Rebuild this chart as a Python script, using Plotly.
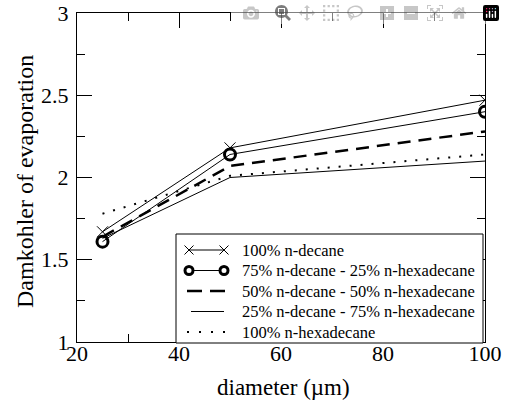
import plotly.graph_objects as go

diameter = [25, 50, 100]
decane100 = [1.67, 2.18, 2.47]
dec75_hex25 = [1.61, 2.14, 2.40]
dec50_hex50 = [1.64, 2.07, 2.28]
dec25_hex75 = [1.63, 2.00, 2.10]
hexadecane100 = [1.78, 2.01, 2.14]

names = [
    "100% n-decane",
    "75% n-decane - 25% n-hexadecane",
    "50% n-decane - 50% n-hexadecane",
    "25% n-decane - 75% n-hexadecane",
    "100% n-hexadecane",
]

FONT = "Liberation Serif, Times New Roman, serif"
W, H = 505, 403
# target plot box in page pixels
PL, PR, PT, PB = 77, 485, 13, 342
ML, MT = PL, PT
MR, MB = W - PR, H - PB
PW, PH = PR - PL, PB - PT


def px_x(p):
    return (p - PL) / PW


def px_y(p):
    return (PB - p) / PH


fig = go.Figure()
fig.add_trace(go.Scatter(x=diameter, y=decane100, name=names[0], mode="lines+markers",
                         line=dict(color="black", width=1),
                         marker=dict(symbol="x-thin-open", size=11, color="black",
                                     line=dict(color="black", width=1))))
fig.add_trace(go.Scatter(x=diameter, y=dec75_hex25, name=names[1], mode="lines+markers",
                         line=dict(color="black", width=1),
                         marker=dict(symbol="circle-open", size=11, color="black",
                                     line=dict(color="black", width=3))))
fig.add_trace(go.Scatter(x=diameter, y=dec50_hex50, name=names[2], mode="lines",
                         line=dict(color="black", width=2.5, dash="13px,8px")))
fig.add_trace(go.Scatter(x=diameter, y=dec25_hex75, name=names[3], mode="lines",
                         line=dict(color="black", width=1)))
fig.add_trace(go.Scatter(x=diameter, y=hexadecane100, name=names[4], mode="lines",
                         line=dict(color="black", width=2, dash="2px,9px")))

# ---- custom legend (Grace style: symbols at both ends of the sample line) ----
shapes = []
annotations = []
box = dict(x0=176, x1=483, y0=234, y1=343)
shapes.append(dict(type="rect", xref="paper", yref="paper",
                   x0=px_x(box["x0"]), x1=px_x(box["x1"]),
                   y0=px_y(box["y1"]), y1=px_y(box["y0"]),
                   line=dict(color="black", width=1), fillcolor="white", layer="above"))
row_y = [250, 270.5, 291, 311.5, 332]
sx0, sx1 = 189, 224
for i, (name, ry) in enumerate(zip(names, row_y)):
    if i == 2:
        shapes.append(dict(type="line", xref="paper", yref="paper",
                           x0=px_x(187), x1=px_x(226), y0=px_y(ry), y1=px_y(ry),
                           line=dict(color="black", width=2.5, dash="15px,8px"), layer="above"))
    elif i == 4:
        shapes.append(dict(type="line", xref="paper", yref="paper",
                           x0=px_x(187), x1=px_x(227), y0=px_y(ry), y1=px_y(ry),
                           line=dict(color="black", width=2, dash="2px,10px"), layer="above"))
    else:
        shapes.append(dict(type="line", xref="paper", yref="paper",
                           x0=px_x(sx0 if i < 2 else 191), x1=px_x(sx1), y0=px_y(ry), y1=px_y(ry),
                           line=dict(color="black", width=1), layer="above"))
    if i == 0:
        for cx in (sx0, sx1):
            for d in (-1, 1):
                shapes.append(dict(type="line", xref="paper", yref="paper",
                                   x0=px_x(cx - 4.5), x1=px_x(cx + 4.5),
                                   y0=px_y(ry - 4.5 * d), y1=px_y(ry + 4.5 * d),
                                   line=dict(color="black", width=1), layer="above"))
    if i == 1:
        for cx in (sx0, sx1):
            shapes.append(dict(type="circle", xref="paper", yref="paper",
                               x0=px_x(cx - 4), x1=px_x(cx + 4),
                               y0=px_y(ry + 4), y1=px_y(ry - 4),
                               line=dict(color="black", width=3), fillcolor="white", layer="above"))
    annotations.append(dict(text=name, xref="paper", yref="paper",
                            x=px_x(240), y=px_y(ry), xanchor="left", yanchor="middle",
                            showarrow=False,
                            font=dict(family=FONT, size=16.5, color="black")))

# axis titles as annotations for exact placement
annotations.append(dict(text="Damkohler of evaporation", xref="paper", yref="paper",
                        x=px_x(25), y=px_y(182), xanchor="center", yanchor="middle",
                        textangle=-90, showarrow=False,
                        font=dict(family=FONT, size=24, color="black")))
annotations.append(dict(text="diameter (µm)", xref="paper", yref="paper",
                        x=px_x(283), y=px_y(387), xanchor="center", yanchor="middle",
                        showarrow=False,
                        font=dict(family=FONT, size=23, color="black")))

axis_common = dict(
    showgrid=False, zeroline=False, showline=True, linecolor="black", linewidth=1,
    mirror="ticks", ticks="inside", ticklen=15, tickwidth=1, tickcolor="black",
    tickfont=dict(family=FONT, size=22, color="black"),
    ticklabeloverflow="allow", automargin=False,
)

fig.update_xaxes(range=[20, 100], dtick=20, tick0=20,
                 minor=dict(dtick=10, ticks="inside", ticklen=8, tickcolor="black", showgrid=False),
                 ticklabelstandoff=-8,
                 **axis_common)
fig.update_yaxes(range=[1, 3], dtick=0.5, tick0=1,
                 minor=dict(dtick=0.25, ticks="inside", ticklen=8, tickcolor="black", showgrid=False),
                 ticklabelstandoff=3,
                 **axis_common)

fig.update_layout(
    width=W, height=H,
    margin=dict(l=ML, r=MR, t=MT, b=MB),
    paper_bgcolor="white", plot_bgcolor="white",
    font=dict(family=FONT, color="black"),
    showlegend=False,
    shapes=shapes,
    annotations=annotations,
)

# remove the browser's default page margin so the 505x403 figure fills the window exactly
fig.write_html("out.html",
               post_script="document.body.style.margin='0';document.body.style.overflow='hidden';")
